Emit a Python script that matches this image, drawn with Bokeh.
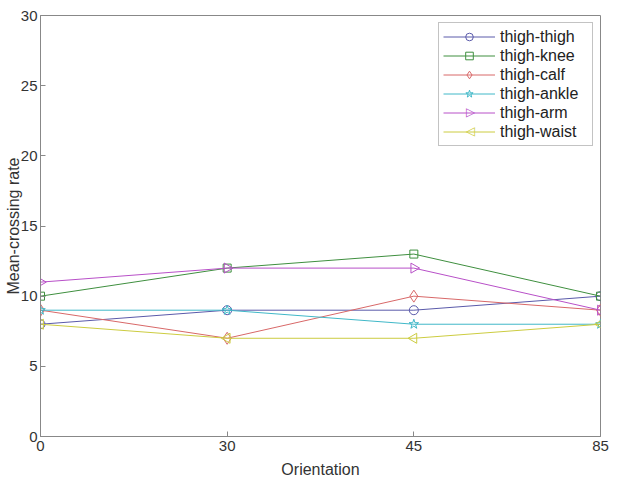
from bokeh.plotting import figure
from bokeh.models import FixedTicker, Range1d, Legend, LegendItem, Label
from bokeh.embed import file_html
from bokeh.resources import INLINE
import math

orientations = ["0", "30", "45", "85"]
thigh_thigh = [8, 9, 9, 10]
thigh_knee = [10, 12, 13, 10]
thigh_calf = [9, 7, 10, 9]
thigh_ankle = [9, 9, 8, 8]
thigh_arm = [11, 12, 12, 9]
thigh_waist = [8, 7, 7, 8]
y_ticks = [0, 5, 10, 15, 20, 25, 30]

# name, values, colour, marker, size, angle, legend symbol for rotated markers
series = [
    ("thigh-thigh", thigh_thigh, "#5a5aaa", "circle", 9, 0, None),
    ("thigh-knee", thigh_knee, "#3f8f3f", "square", 8, 0, None),
    ("thigh-calf", thigh_calf, "#d86868", "diamond", 12, 0, None),
    ("thigh-ankle", thigh_ankle, "#40b8c8", "star", 10, 0, None),
    ("thigh-arm", thigh_arm, "#b850c8", "triangle", 10, -math.pi / 2, "\u25B7"),
    ("thigh-waist", thigh_waist, "#cccc40", "triangle", 10, math.pi / 2, "\u25C1"),
]

W, H = 619, 484
B_LEFT, B_RIGHT, B_TOP, B_BOTTOM = 40, 19, 15, 48
xs = list(range(len(orientations)))

p = figure(width=W, height=H, output_backend="svg", toolbar_location=None,
           x_range=Range1d(0, len(orientations) - 1), y_range=Range1d(0, 30),
           min_border_left=B_LEFT, min_border_right=B_RIGHT,
           min_border_top=B_TOP, min_border_bottom=B_BOTTOM)
p.xgrid.visible = False
p.ygrid.visible = False
p.outline_line_color = "#888888"
p.background_fill_color = "white"

font = "Liberation Sans"
for ax in (p.xaxis[0], p.yaxis[0]):
    ax.major_tick_in = 5
    ax.major_tick_out = 0
    ax.minor_tick_in = 0
    ax.minor_tick_out = 0
    ax.axis_line_color = "#888888"
    ax.major_tick_line_color = "#888888"
    ax.major_label_text_font = font
    ax.major_label_text_font_size = "15px"
    ax.major_label_text_color = "#333333"
    ax.axis_label_text_font = font
    ax.axis_label_text_font_size = "16px"
    ax.axis_label_text_font_style = "normal"
    ax.axis_label_text_color = "#333333"

p.xaxis.major_label_standoff = 4
p.yaxis.major_label_standoff = 3
p.xaxis.axis_label_standoff = 7
p.yaxis.axis_label_standoff = -4

p.xaxis.ticker = FixedTicker(ticks=xs)
p.xaxis.major_label_overrides = {i: lab for i, lab in enumerate(orientations)}
p.yaxis.ticker = FixedTicker(ticks=y_ticks)
p.xaxis.axis_label = "Orientation"
p.yaxis.axis_label = "Mean-crossing rate"

# legend geometry
L_MARGIN, L_PAD, G_W, ROW_H, L_STANDOFF, LABEL_W = 7, 4, 52, 19, 5, 88

items = []
for name, vals, color, marker, size, ang, sym in series:
    r1 = p.line(xs, vals, line_color=color, line_width=1)
    r2 = p.scatter(xs, vals, marker=marker, size=size, angle=ang, line_color=color,
                   fill_color=None, line_width=1)
    items.append(LegendItem(label=name, renderers=[r1] if sym else [r1, r2]))

legend = Legend(items=items, location="top_right",
                label_text_font=font, label_text_font_size="16px",
                label_text_color="#222222",
                glyph_width=G_W, glyph_height=ROW_H, label_height=ROW_H,
                label_width=LABEL_W,
                spacing=0, padding=L_PAD, margin=L_MARGIN,
                label_standoff=L_STANDOFF,
                border_line_color="#888888", background_fill_alpha=0)
p.add_layout(legend)

# rotated triangle symbols inside the legend (legend glyphs ignore marker angle)
frame_w = W - B_LEFT - B_RIGHT
frame_h = H - B_TOP - B_BOTTOM
legend_w = 2 * L_PAD + G_W + L_STANDOFF + LABEL_W
gx = frame_w - L_MARGIN - legend_w + L_PAD + G_W / 2
for i, (name, vals, color, marker, size, ang, sym) in enumerate(series):
    if sym:
        gy = frame_h - L_MARGIN - L_PAD - ROW_H * i - ROW_H / 2
        p.add_layout(Label(x=gx, y=gy, x_units="screen", y_units="screen", text=sym,
                           text_align="center", text_baseline="middle",
                           text_font="DejaVu Sans", text_font_size="12px",
                           text_color=color, background_fill_color="white"))

open("out.html", "w").write(file_html(p, INLINE))
